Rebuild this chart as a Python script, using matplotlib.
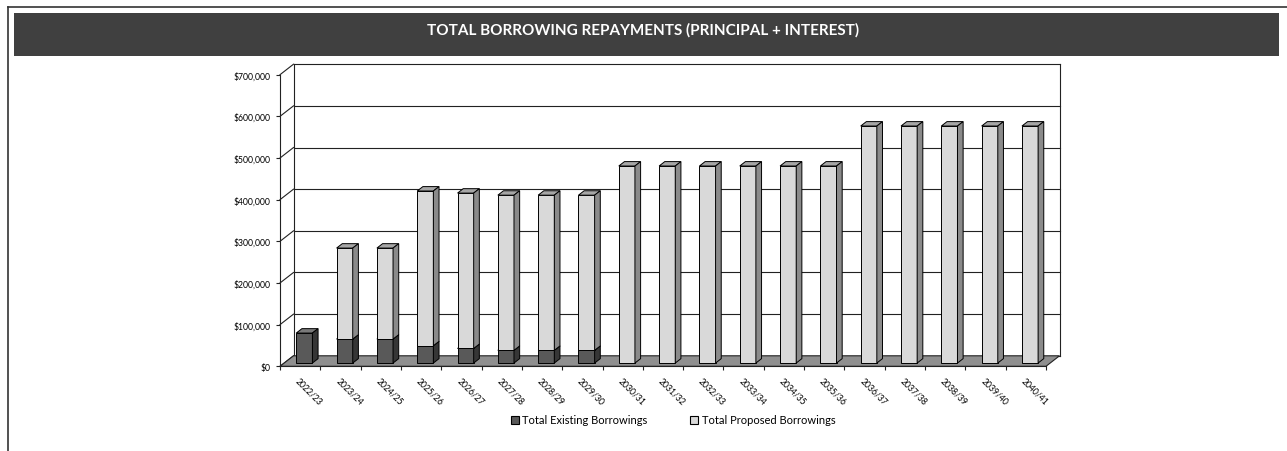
import matplotlib
matplotlib.use('Agg')
import matplotlib.pyplot as plt
from matplotlib.patches import Polygon, Rectangle, Patch
from matplotlib.lines import Line2D
from matplotlib.ticker import FuncFormatter

plt.rcParams['font.family'] = ['Lato', 'DejaVu Sans']

# Repayment data by financial year
years = ['2022/23', '2023/24', '2024/25', '2025/26', '2026/27', '2027/28', '2028/29',
         '2029/30', '2030/31', '2031/32', '2032/33', '2033/34', '2034/35', '2035/36',
         '2036/37', '2037/38', '2038/39', '2039/40', '2040/41']
existing = [72000, 57500, 57500, 41500, 35000, 30500, 30500, 30500,
            0, 0, 0, 0, 0, 0, 0, 0, 0, 0, 0]
proposed = [0, 218500, 218500, 371500, 373000, 372500, 372500, 372500,
            473000, 473000, 473000, 473000, 473000, 473000,
            569000, 569000, 569000, 569000, 569000]
series_names = ['Total Existing Borrowings', 'Total Proposed Borrowings']
yticks = [0, 100000, 200000, 300000, 400000, 500000, 600000, 700000]

W, H = 1287, 452
fig = plt.figure(figsize=(W / 100, H / 100), dpi=100)

# frame and title banner
fig.add_artist(Line2D([8 / W, 1], [1 - 8 / H, 1 - 8 / H], color='#333333', lw=1.2))
fig.add_artist(Line2D([8 / W, 8 / W], [0, 1 - 8 / H], color='#333333', lw=1.2))
fig.add_artist(Rectangle((14 / W, 1 - 57 / H), 1265 / W, 43 / H, facecolor='#404040',
                         edgecolor='none'))
fig.text(0.5, 1 - 30 / H, 'TOTAL BORROWING REPAYMENTS (PRINCIPAL + INTEREST)',
         ha='center', va='center', color='white', fontsize=11, fontweight='bold')

# front plane of the 3D box
ax = fig.add_axes([280 / W, (H - 367.3) / H, 766 / W, 291.6 / H])
n = len(years)
ax.set_xlim(-0.5, n - 0.5)
ax.set_ylim(0, 700000)

# depth offsets (13.5 px right, 10.5 px up) in data units
DX = 13.5 / (766 / n)
DY = 10.5 * 700000 / 291.6
x_lo, x_hi = -0.5, n - 0.5

def poly(pts, fc, ec='black', lw=0.7, z=3):
    ax.add_patch(Polygon(pts, closed=True, facecolor=fc, edgecolor=ec, lw=lw,
                         clip_on=False, zorder=z, joinstyle='miter'))

def line(xs, ys, lw=0.8, color='#222222', z=1):
    ax.add_line(Line2D(xs, ys, color=color, lw=lw, clip_on=False, zorder=z))

# back wall gridlines and left-wall diagonals
for v in yticks:
    line([x_lo + DX, x_hi + DX], [v + DY, v + DY])
    line([x_lo, x_lo + DX], [v, v + DY])
line([x_lo + DX, x_lo + DX], [DY, 700000 + DY])
line([x_hi + DX, x_hi + DX], [DY, 700000 + DY])

# floor
poly([(x_lo, 0), (x_hi, 0), (x_hi + DX, DY), (x_lo + DX, DY)], '#8f8f8f',
     ec='#222222', lw=0.8, z=1.5)

# bars as boxes: front, top, side
d0, d1 = 0.31, 0.73
bw = 0.4
styles = [('#595959', '#7a7a7a', '#363636'), ('#d9d9d9', '#a6a6a6', '#8a8a8a')]

def box(xc, y0, y1, cols):
    front, top, side = cols
    xa = xc - bw / 2 + d0 * DX
    xb = xc + bw / 2 + d0 * DX
    ya, yb = y0 + d0 * DY, y1 + d0 * DY
    ox, oy = (d1 - d0) * DX, (d1 - d0) * DY
    poly([(xa, ya), (xb, ya), (xb, yb), (xa, yb)], front)
    poly([(xa, yb), (xb, yb), (xb + ox, yb + oy), (xa + ox, yb + oy)], top)
    poly([(xb, ya), (xb + ox, ya + oy), (xb + ox, yb + oy), (xb, yb)], side)

for i in range(n):
    base = 0
    for vals, cols in zip([existing, proposed], styles):
        if vals[i] > 0:
            box(i, base, base + vals[i], cols)
            base += vals[i]

# axes, ticks and labels
for s in ['top', 'right']:
    ax.spines[s].set_visible(False)
for s in ['left', 'bottom']:
    ax.spines[s].set_color('#222222')
    ax.spines[s].set_linewidth(0.8)
    ax.spines[s].set_zorder(4)
ax.patch.set_visible(False)

ax.set_yticks(yticks)
ax.yaxis.set_major_formatter(FuncFormatter(lambda v, p: '${:,.0f}'.format(v)))
ax.tick_params(axis='y', length=3, width=0.8, pad=4, labelsize=6.2, color='#222222')

ax.set_xticks(range(n))
ax.set_xticks([i - 0.5 for i in range(n + 1)], minor=True)
ax.set_xticklabels(years, rotation=-45, ha='left', va='top', rotation_mode='anchor',
                   fontsize=6.2)
ax.tick_params(axis='x', which='major', length=0, pad=7)
ax.tick_params(axis='x', which='minor', length=3, width=0.8, color='#222222')

handles = [Patch(facecolor=styles[0][0], edgecolor='black', lw=0.8),
           Patch(facecolor=styles[1][0], edgecolor='black', lw=0.8)]
fig.legend(handles, series_names, loc='center', bbox_to_anchor=(673 / W, 1 - 421 / H),
           ncol=2, frameon=False, fontsize=8, handlelength=0.75, handleheight=0.75,
           handletextpad=0.3, columnspacing=3.8)

fig.savefig('out.png', dpi=100, facecolor='white')
